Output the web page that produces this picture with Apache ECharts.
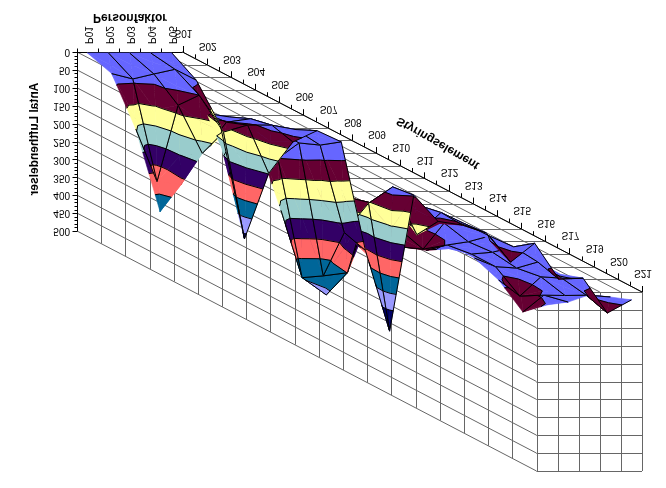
<!DOCTYPE html>
<html>
<head>
<meta charset="utf-8">
<style>html,body{margin:0;padding:0;background:#fff}#c{width:666px;height:488px}</style>
<script src="https://cdn.jsdelivr.net/npm/echarts@6/dist/echarts.min.js"></script>
</head>
<body>
<div id="c"></div>
<script>
// Categories and tick labels
const personLabels = ['P01','P02','P03','P04','P05'];
const styringLabels = ['S01','S02','S03','S04','S05','S06','S07','S08','S09','S10','S11','S12','S13','S14','S15','S16','S17','S19','S20','S21'];
const valueTicks = [0,50,100,150,200,250,300,350,400,450,500];

// One value per Styringselement for each Personfaktor
const P01 = [3,25,145,340,15,5,0,0,160,50,40,60,60,86,60,10,11,37,91,36];
const P02 = [3,40,291,264,30,5,3,50,348,361,55,80,70,92,45,35,35,82,44,28];
const P03 = [3,26,78,177,55,10,3,7,343,299,69,5,6,19,36,30,39,28,45,8];
const P04 = [3,13,50,118,63,28,5,13,222,105,24,122,25,22,20,15,22,32,44,14];
const P05 = [3,43,134,416,198,75,8,4,272,462,47,85,60,47,93,5,70,32,94,22];
const surface = [P01,P02,P03,P04,P05];

// Value bands (every 50)
const bandColors = ['#6666FF','#660033','#FFFF99','#99CCCC','#330066','#FF6666','#006699','#9999FF','#000066','#000066'];
const bandStep = 50;

// Oblique projection of the box
const origin = [77,52], pVec = [105.5,0], sVec = [459.5,240], valuePx = 179/500, valueMax = 500;
const gridColor = '#666666';

// Mesh segments that the reference leaves undrawn: [kind, line index, segment index]
const undrawnMesh = [['S',3,0],['S',3,1],['P',1,2]];
const isUndrawn = (k,l,g) => undrawnMesh.some(e => e[0]===k && e[1]===l && e[2]===g);

// p, s are box fractions (0..1)
function proj(p,s,w){return [origin[0]+pVec[0]*p+sVec[0]*s, origin[1]+pVec[1]*p+sVec[1]*s+w*valuePx];}
const nP = personLabels.length, nS = styringLabels.length;
const pPos = i => (i+0.5)/nP;           // series sit in the middle of their interval
const sPos = j => j/(nS-1);

const chart = echarts.init(document.getElementById('c'),null,{renderer:'canvas'});

function crisp(v){return Math.round(v)+0.5;}
function mkLine(a,b,color,width){
  return {type:'line',shape:{x1:a[0],y1:a[1],x2:b[0],y2:b[1]},style:{stroke:color,lineWidth:width||1,fill:null},silent:true};
}
function flipText(text,pos,rot,opt){
  return {type:'text',x:pos[0],y:pos[1],rotation:rot||0,scaleY:-1,silent:true,
    style:Object.assign({text:text,fill:'#000',font:'10px "Liberation Sans"',align:'center',verticalAlign:'middle'},opt||{})};
}

function renderFrame(params,api){
  const c = pt => api.coord(pt);
  const ch = [];
  const P = (p,s,w) => c(proj(p,s,w));
  const gl = (a,b) => ch.push(mkLine(a,b,gridColor,1));
  // floor lines along S and along P
  for(let i=1;i<=nP;i++){gl(P(i/nP,0,0),P(i/nP,1,0));}
  for(let j=0;j<nS;j++){const a=P(0,sPos(j),0),b=P(1,sPos(j),0);a[1]=b[1]=crisp(a[1]);gl(a,b);}
  // long wall
  valueTicks.forEach(v=>gl(P(0,0,v),P(0,1,v)));
  for(let j=1;j<nS;j++){const a=P(0,sPos(j),0),b=P(0,sPos(j),valueMax);a[0]=b[0]=crisp(a[0]);gl(a,b);}
  // end wall
  valueTicks.forEach(v=>{const a=P(0,1,v),b=P(1,1,v);a[1]=b[1]=crisp(a[1]);gl(a,b);});
  for(let i=0;i<=nP;i++){const a=P(i/nP,1,0),b=P(i/nP,1,valueMax);a[0]=b[0]=crisp(a[0]);gl(a,b);}
  // value axis
  const ax0=P(0,0,0),ax1=P(0,0,valueMax);ax0[0]=ax1[0]=crisp(ax0[0]);
  ch.push(mkLine(ax0,ax1,'#000',1));
  for(let v=0;v<=valueMax;v+=10){
    const a=P(0,0,v);a[0]=ax0[0];a[1]=crisp(a[1]);
    const major=v%50===0;
    ch.push(mkLine(a,[a[0]-(major?5:3),a[1]],'#000',1));
  }
  valueTicks.forEach(v=>{const a=P(0,0,v);ch.push(flipText(String(v),[a[0]-7,a[1]],0,{align:'right'}));});
  // person axis
  const pa=P(0,0,0),pb=P(1,0,0);pa[1]=pb[1]=crisp(pa[1]);
  ch.push(mkLine(pa,pb,'#000',1));
  for(let i=0;i<=nP;i++){const a=P(i/nP,0,0);a[0]=crisp(a[0]);a[1]=pa[1];ch.push(mkLine(a,[a[0],a[1]-4],'#000',1));}
  personLabels.forEach((t,i)=>{const a=P(pPos(i),0,0);ch.push(flipText(t,[a[0],a[1]-17],Math.PI/2));});
  // styring axis
  ch.push(mkLine(P(1,0,0),P(1,1,0),'#000',1));
  for(let k=0;k<=(nS-1)*2;k++){
    const a=P(1,k/((nS-1)*2),0);a[0]=crisp(a[0]);
    ch.push(mkLine(a,[a[0],a[1]-(k%2===0?6:4)],'#000',1));
  }
  styringLabels.forEach((t,j)=>{const a=P(1,sPos(j),0);ch.push(flipText(t,[a[0]+1,a[1]-19]));});
  // titles
  const bold='bold 12px "Liberation Sans"';
  ch.push(flipText('Personfaktor',c([130,17]),0,{font:bold}));
  ch.push(flipText('Antal Lufthendelser',c([35,139]),-Math.PI/2,{font:bold}));
  ch.push(flipText('Styringselement',c([438,143]),-Math.PI/6,{font:bold}));
  return {type:'group',children:ch};
}

function clipBand(poly,lo,hi){
  function clip(pts,keep,t){
    const out=[];
    for(let i=0;i<pts.length;i++){
      const a=pts[i],b=pts[(i+1)%pts.length];
      const ka=keep(a[2]),kb=keep(b[2]);
      if(ka) out.push(a);
      if(ka!==kb){const f=(t-a[2])/(b[2]-a[2]);out.push([a[0]+(b[0]-a[0])*f,a[1]+(b[1]-a[1])*f,t]);}
    }
    return out;
  }
  let r=clip(poly,w=>w>=lo,lo);
  if(r.length) r=clip(r,w=>w<=hi,hi);
  return r;
}

function renderQuad(params,api){
  const pi=api.value(0),si=api.value(1);
  const c=(v)=>api.coord(proj(v[0],v[1],v[2]));
  const V=(i,j)=>[pPos(i),sPos(j),surface[i][j]];
  const a=V(pi,si),b=V(pi+1,si),d=V(pi+1,si+1),e=V(pi,si+1);
  const m=[0,1,2].map(k=>(a[k]+b[k]+d[k]+e[k])/4);
  const tris=[[a,b,m],[b,d,m],[d,e,m],[e,a,m]];
  const ch=[];
  tris.forEach(tri=>{
    bandColors.forEach((col,n)=>{
      const poly=clipBand(tri,n*bandStep,(n+1)*bandStep);
      if(poly.length>=3){
        ch.push({type:'polygon',shape:{points:poly.map(c)},style:{fill:col,stroke:col,lineWidth:0.6},silent:true});
      }
    });
  });
  // contour lines between the bands
  tris.forEach(tri=>{
    for(let t=bandStep;t<bandStep*bandColors.length;t+=bandStep){
      const pts=[];
      for(let k=0;k<3;k++){
        const p=tri[k],q=tri[(k+1)%3];
        if((p[2]<t)!==(q[2]<t)){const f=(t-p[2])/(q[2]-p[2]);pts.push([p[0]+(q[0]-p[0])*f,p[1]+(q[1]-p[1])*f,t]);}
      }
      if(pts.length===2) ch.push(mkLine(c(pts[0]),c(pts[1]),'#000',1));
    }
  });
  // mesh
  if(si>0 && !isUndrawn('S',si,pi)) ch.push(mkLine(c(a),c(b),'#000',1));
  if(si+1<nS-1 && !isUndrawn('S',si+1,pi)) ch.push(mkLine(c(e),c(d),'#000',1));
  if(pi>0 && !isUndrawn('P',pi,si)) ch.push(mkLine(c(a),c(e),'#000',1));
  if(!isUndrawn('P',pi+1,si)) ch.push(mkLine(c(b),c(d),'#000',1));
  return {type:'group',children:ch};
}

// far faces first
const quads=[];
for(let j=nS-2;j>=0;j--){for(let i=0;i<nP-1;i++){quads.push([i,j]);}}

chart.setOption({
  animation:false,
  backgroundColor:'#fff',
  grid:{left:0,right:0,top:0,bottom:0},
  xAxis:{type:'value',min:0,max:666,show:false},
  yAxis:{type:'value',min:0,max:488,inverse:true,show:false},
  tooltip:{show:false},
  series:[
    {type:'custom',coordinateSystem:'cartesian2d',renderItem:renderFrame,data:[[0,0]],clip:false,silent:true,z:1},
    {type:'custom',coordinateSystem:'cartesian2d',renderItem:renderQuad,data:quads,clip:false,silent:true,z:2,encode:{x:0,y:1}}
  ]
});
</script>
</body>
</html>
